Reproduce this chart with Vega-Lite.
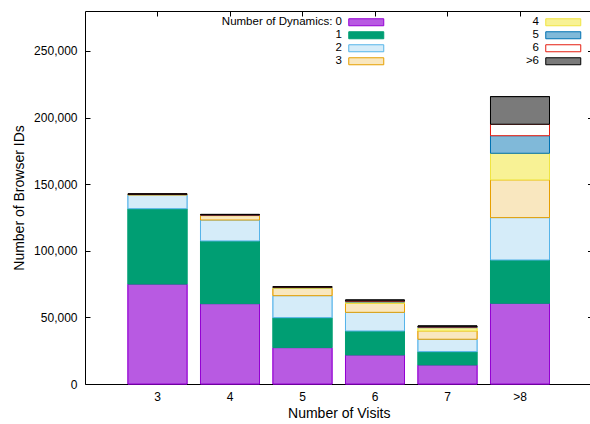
{
  "$schema": "https://vega.github.io/schema/vega-lite/v6.json",
  "autosize": "none",
  "width": 507.5,
  "height": 373,
  "padding": {"left": 85, "top": 11, "right": -2.5, "bottom": 40},
  "background": "white",
  "config": {
    "view": {"stroke": "black", "strokeWidth": 1},
    "font": "Liberation Sans",
    "axis": {
      "domain": false, "grid": false, "tickColor": "black", "tickSize": -5,
      "labelColor": "black", "titleColor": "black",
      "labelFont": "Liberation Sans", "titleFont": "Liberation Sans",
      "labelFontSize": 12, "titleFontSize": 14, "titleFontWeight": "normal"
    },
    "legend": {
      "labelFont": "Liberation Sans", "labelFontSize": 11.5, "labelColor": "black",
      "symbolType": "M-5,-1H5V1H-5Z", "symbolSize": 49, "symbolStrokeWidth": 1,
      "labelAlign": "right", "labelOffset": -30, "rowPadding": 0, "padding": 0
    }
  },
  "data": {
    "values": [
      {"visits": "3", "dyn": "0", "n": 75000},
      {"visits": "3", "dyn": "1", "n": 56600},
      {"visits": "3", "dyn": "2", "n": 10300},
      {"visits": "3", "dyn": "3", "n": 300},
      {"visits": "3", "dyn": "4", "n": 100},
      {"visits": "3", "dyn": "5", "n": 100},
      {"visits": "3", "dyn": "6", "n": 50},
      {"visits": "3", "dyn": ">6", "n": 300},
      {"visits": "4", "dyn": "0", "n": 60300},
      {"visits": "4", "dyn": "1", "n": 47100},
      {"visits": "4", "dyn": "2", "n": 15700},
      {"visits": "4", "dyn": "3", "n": 3300},
      {"visits": "4", "dyn": "4", "n": 300},
      {"visits": "4", "dyn": "5", "n": 200},
      {"visits": "4", "dyn": "6", "n": 100},
      {"visits": "4", "dyn": ">6", "n": 300},
      {"visits": "5", "dyn": "0", "n": 27300},
      {"visits": "5", "dyn": "1", "n": 22500},
      {"visits": "5", "dyn": "2", "n": 16500},
      {"visits": "5", "dyn": "3", "n": 5500},
      {"visits": "5", "dyn": "4", "n": 500},
      {"visits": "5", "dyn": "5", "n": 300},
      {"visits": "5", "dyn": "6", "n": 100},
      {"visits": "5", "dyn": ">6", "n": 400},
      {"visits": "6", "dyn": "0", "n": 21800},
      {"visits": "6", "dyn": "1", "n": 18000},
      {"visits": "6", "dyn": "2", "n": 14000},
      {"visits": "6", "dyn": "3", "n": 6800},
      {"visits": "6", "dyn": "4", "n": 1000},
      {"visits": "6", "dyn": "5", "n": 600},
      {"visits": "6", "dyn": "6", "n": 200},
      {"visits": "6", "dyn": ">6", "n": 700},
      {"visits": "7", "dyn": "0", "n": 14300},
      {"visits": "7", "dyn": "1", "n": 10000},
      {"visits": "7", "dyn": "2", "n": 9300},
      {"visits": "7", "dyn": "3", "n": 6200},
      {"visits": "7", "dyn": "4", "n": 2500},
      {"visits": "7", "dyn": "5", "n": 500},
      {"visits": "7", "dyn": "6", "n": 200},
      {"visits": "7", "dyn": ">6", "n": 600},
      {"visits": ">8", "dyn": "0", "n": 60600},
      {"visits": ">8", "dyn": "1", "n": 32500},
      {"visits": ">8", "dyn": "2", "n": 31800},
      {"visits": ">8", "dyn": "3", "n": 28300},
      {"visits": ">8", "dyn": "4", "n": 20000},
      {"visits": ">8", "dyn": "5", "n": 13200},
      {"visits": ">8", "dyn": "6", "n": 8600},
      {"visits": ">8", "dyn": ">6", "n": 20700}
    ]
  },
  "layer": [
    {
      "mark": {"type": "bar", "strokeWidth": 1},
      "encoding": {
        "x": {
          "field": "visits", "type": "nominal",
          "scale": {"domain": ["3", "4", "5", "6", "7", ">8"], "paddingInner": 0.186, "paddingOuter": 0.593},
          "axis": {"orient": "bottom", "title": "Number of Visits", "labelAngle": 0, "labelPadding": 12, "titlePadding": 4}
        },
        "y": {
          "field": "n", "type": "quantitative", "stack": "zero",
          "scale": {"domain": [0, 280000], "nice": false},
          "axis": {"title": "Number of Browser IDs", "values": [0, 50000, 100000, 150000, 200000, 250000], "labelExpr": "format(datum.value, ',')", "labelPadding": 13, "titlePadding": 7}
        },
        "order": {"field": "dyn", "sort": "ascending"},
        "fill": {
          "field": "dyn", "type": "nominal",
          "scale": {
            "domain": ["0", "1", "2", "3", "4", "5", "6", ">6"],
            "range": ["#b85ae2", "#009E73", "#d5ecf9", "#f9e7bf", "#f8f295", "#80b9d9", "#ffffff", "#7a7a7a"]
          },
          "legend": {
            "orient": "none", "legendX": 275.5, "legendY": 5.5, "title": null,
            "values": ["0", "1", "2", "3"],
            "symbolStrokeColor": {"expr": "scale('stroke', datum.value)"},
            "labelExpr": "datum.label == '0' ? 'Number of Dynamics: 0' : datum.label"
          }
        },
        "stroke": {
          "field": "dyn", "type": "nominal",
          "scale": {
            "domain": ["0", "1", "2", "3", "4", "5", "6", ">6"],
            "range": ["#9400D3", "#009E73", "#56B4E9", "#E69F00", "#F0E442", "#0072B2", "#E51E10", "#000000"]
          },
          "legend": null
        }
      }
    },
    {
      "mark": {"type": "bar", "strokeWidth": 1},
      "encoding": {
        "x": {"field": "visits", "type": "nominal", "axis": null},
        "y": {"field": "n", "type": "quantitative", "stack": "zero", "axis": null},
        "order": {"field": "dyn", "sort": "ascending"},
        "fill": {
          "field": "dyn", "type": "nominal",
          "scale": {
            "domain": ["0", "1", "2", "3", "4", "5", "6", ">6"],
            "range": ["#b85ae2", "#009E73", "#d5ecf9", "#f9e7bf", "#f8f295", "#80b9d9", "#ffffff", "#7a7a7a"]
          },
          "legend": {
            "orient": "none", "legendX": 472.5, "legendY": 5.5, "title": null,
            "symbolStrokeColor": {"expr": "scale('stroke', datum.value)"},
            "values": ["4", "5", "6", ">6"]
          }
        },
        "stroke": {"field": "dyn", "type": "nominal", "legend": null}
      }
    },
    {
      "mark": {"type": "bar", "opacity": 0},
      "encoding": {
        "x": {"field": "visits", "type": "nominal", "axis": {"orient": "top", "labels": false, "title": null}},
        "y": {"field": "n", "type": "quantitative", "axis": {"orient": "right", "labels": false, "title": null, "values": [0, 50000, 100000, 150000, 200000, 250000]}}
      }
    }
  ],
  "resolve": {
    "axis": {"x": "independent", "y": "independent"},
    "scale": {"fill": "independent"},
    "legend": {"fill": "independent"}
  }
}
